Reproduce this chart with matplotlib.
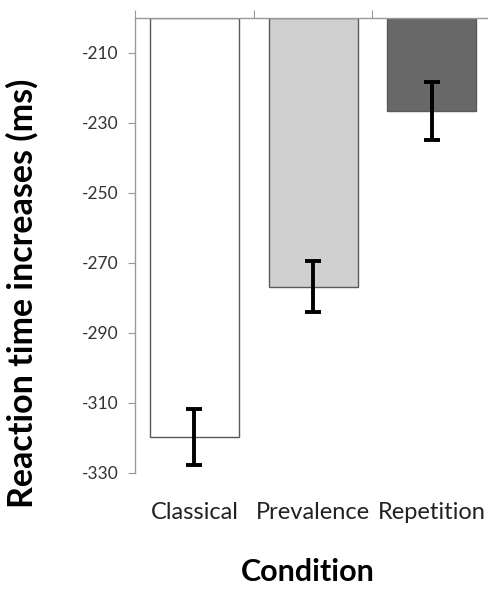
import matplotlib.pyplot as plt
import numpy as np

conditions = ['Classical', 'Prevalence', 'Repetition']
rt_values = [-319.7, -276.8, -226.6]
rt_errors = [7.9, 7.3, 8.3]
bar_colors = ['#ffffff', '#d0d0d0', '#686868']
y_ticks = [-210, -230, -250, -270, -290, -310, -330]

plt.rcParams['font.family'] = ['Lato', 'DejaVu Sans']

fig = plt.figure(figsize=(4.88, 5.9), dpi=100, facecolor='w')
ax = fig.add_axes([135/488, 1 - 473/590, 356/488, 455/590])

x = np.arange(len(conditions))
base = -200
ax.bar(x, np.array(rt_values) - base, bottom=base, width=0.75,
       color=bar_colors, edgecolor='#5a5a5a', linewidth=1.0, zorder=2)
ax.errorbar(x, rt_values, yerr=rt_errors, fmt='none', ecolor='black',
            elinewidth=2.8, capsize=5.5, capthick=2.8, zorder=3)

ax.set_xlim(-0.5, 2.5)
ax.set_ylim(-330, -200)
ax.set_yticks(y_ticks)
ax.set_yticklabels([str(t) for t in y_ticks], fontsize=12.5, color='#333333')
ax.tick_params(axis='y', direction='out', length=5, color='#999999', pad=7)

# boundary ticks on the top axis, category names below the plot
ax.set_xticks([-0.5, 0.5, 1.5, 2.5])
ax.set_xticks(x, minor=True)
ax.set_xticklabels(conditions, minor=True, fontsize=17, color='#222222')
ax.tick_params(axis='x', which='major', top=True, bottom=False,
               labeltop=False, labelbottom=False, direction='out',
               length=6, color='#999999')
ax.tick_params(axis='x', which='minor', top=False, bottom=False, length=0,
               pad=21)

for s in ['right', 'bottom']:
    ax.spines[s].set_visible(False)
for s in ['top', 'left']:
    ax.spines[s].set_color('#999999')
    ax.spines[s].set_linewidth(1.0)

fig.text(22/488, 1 - 293/590, 'Reaction time increases (ms)', rotation=90,
         ha='center', va='center', fontsize=24.5, fontweight='bold')
fig.text(308/488, 1 - 572/590, 'Condition', ha='center', va='center',
         fontsize=22, fontweight='bold')

fig.savefig('out.png', dpi=100, facecolor='w')
